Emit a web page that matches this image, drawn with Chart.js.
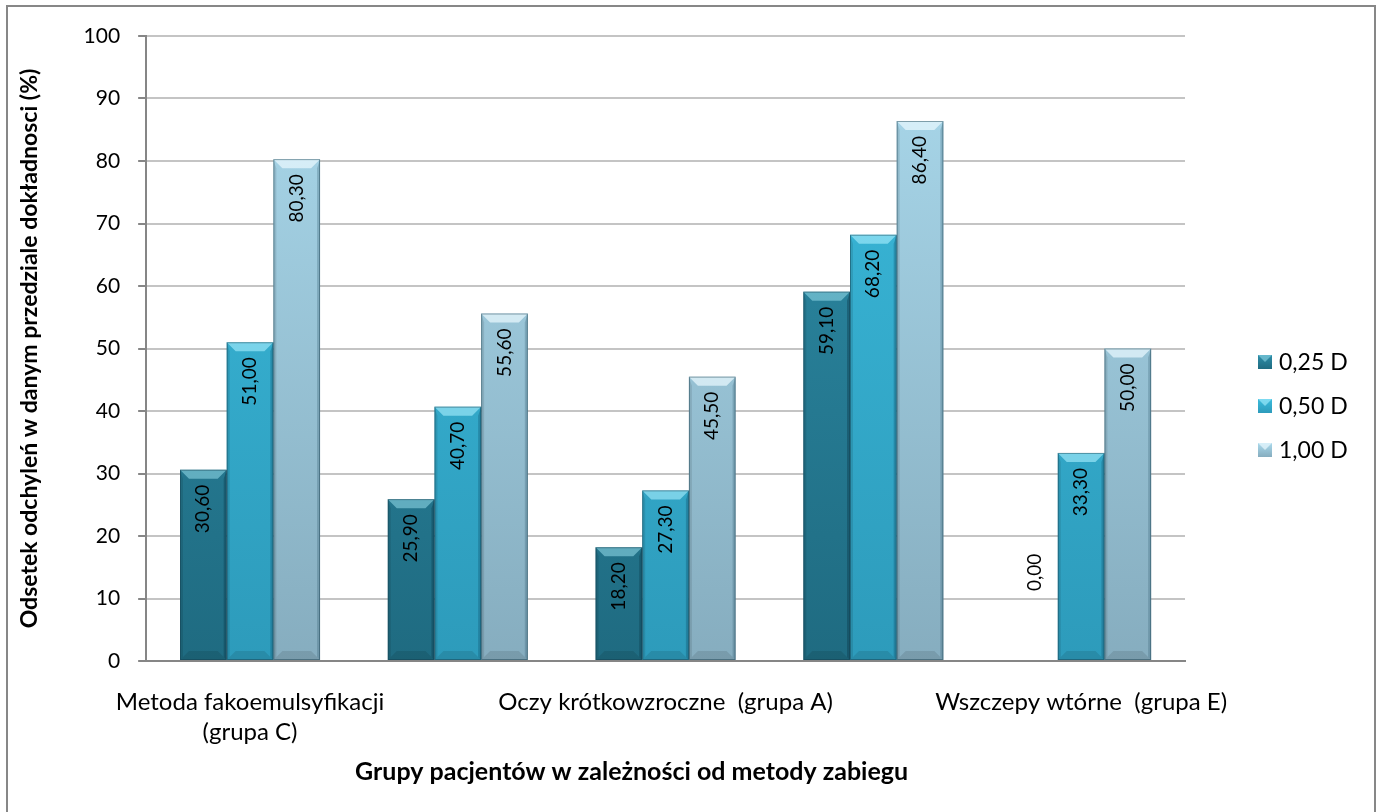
<!DOCTYPE html>
<html lang="pl">
<head>
<meta charset="utf-8">
<title>Odsetek odchyleń w danym przedziale dokładności</title>
<script src="https://cdn.jsdelivr.net/npm/chart.js@4.4.1/dist/chart.umd.min.js"></script>
<style>
  html, body { margin: 0; padding: 0; background: #ffffff; }
  #wrap { position: relative; width: 1379px; height: 812px; }
</style>
</head>
<body>
<div id="wrap"><canvas id="chart" width="1379" height="812"></canvas></div>
<script>
// Groups of patients (only every other group name is printed on the axis)
const categories = [
  ["Metoda fakoemulsyfikacji", "(grupa C)"],
  "",
  "Oczy krótkowzroczne  (grupa A)",
  "",
  "Wszczepy wtórne  (grupa E)"
];

// Share of deviations within each accuracy interval (%)
const seriesNames = ["0,25 D", "0,50 D", "1,00 D"];
const values025 = [30.6, 25.9, 18.2, 59.1, 0.0];
const values050 = [51.0, 40.7, 27.3, 68.2, 33.3];
const values100 = [80.3, 55.6, 45.5, 86.4, 50.0];

const yTicks = [0, 10, 20, 30, 40, 50, 60, 70, 80, 90, 100];

const xTitle = "Grupy pacjentów w zależności od metody zabiegu";
const yTitle = "Odsetek odchyleń w danym przedziale dokładnosci (%)";

const FONT = "Lato, 'Open Sans', 'Liberation Sans', sans-serif";

// Colour ramps for each series
const palettes = [
  { top: "#2e8ea9", bottom: "#1f6b81", light: "rgba(150,220,235,0.55)", dark: "rgba(10,50,65,0.35)", legend: "#2a84a0" },
  { top: "#3bbbdc", bottom: "#2d9bbb", light: "rgba(170,240,255,0.6)", dark: "rgba(10,70,95,0.3)", legend: "#33acd0" },
  { top: "#aad9ec", bottom: "#86adbf", light: "rgba(235,250,255,0.7)", dark: "rgba(40,80,100,0.25)", legend: "#9cc6d8" }
];

function verticalGradient(p) {
  return (ctx) => {
    const area = ctx.chart.chartArea;
    if (!area) return p.legend;
    const g = ctx.chart.ctx.createLinearGradient(0, area.top, 0, area.bottom);
    g.addColorStop(0, p.top);
    g.addColorStop(1, p.bottom);
    return g;
  };
}

// Bevelled edges on each bar, drawn from the bar elements laid out by Chart.js
const bevelPlugin = {
  id: "bevel",
  afterDatasetsDraw(chart) {
    const ctx = chart.ctx;
    chart.data.datasets.forEach((ds, di) => {
      const meta = chart.getDatasetMeta(di);
      const p = palettes[di];
      meta.data.forEach((bar) => {
        const { x, y, base, width } = bar.getProps(["x", "y", "base", "width"], true);
        const h = base - y;
        if (h < 1) return;
        const l = x - width / 2, r = x + width / 2;
        const b = Math.min(9, h / 2);
        ctx.save();
        ctx.fillStyle = p.light;
        ctx.beginPath();
        ctx.moveTo(l, y); ctx.lineTo(r, y); ctx.lineTo(r - b, y + b); ctx.lineTo(l + b, y + b); ctx.closePath();
        ctx.fill();
        ctx.fillStyle = "rgba(0,0,0,0.10)";
        ctx.beginPath();
        ctx.moveTo(l, y); ctx.lineTo(l + 3, y + b); ctx.lineTo(l + 3, base - 3); ctx.lineTo(l, base); ctx.closePath();
        ctx.fill();
        ctx.fillStyle = p.dark;
        ctx.beginPath();
        ctx.moveTo(r, y); ctx.lineTo(r - 3, y + b); ctx.lineTo(r - 3, base - 3); ctx.lineTo(r, base); ctx.closePath();
        ctx.fill();
        ctx.fillStyle = "rgba(0,0,0,0.10)";
        ctx.beginPath();
        ctx.moveTo(l, base); ctx.lineTo(r, base); ctx.lineTo(r - b, base - b); ctx.lineTo(l + b, base - b); ctx.closePath();
        ctx.fill();
        ctx.strokeStyle = "rgba(20,60,75,0.45)";
        ctx.lineWidth = 1;
        ctx.strokeRect(l + 0.5, y + 0.5, width - 1, h - 1);
        ctx.restore();
      });
    });
  }
};

// Rotated value labels, written inside the top of each bar
const valueLabelPlugin = {
  id: "valueLabels",
  afterDatasetsDraw(chart) {
    const ctx = chart.ctx;
    ctx.save();
    ctx.font = "19px " + FONT;
    ctx.fillStyle = "#000000";
    ctx.textBaseline = "middle";
    chart.data.datasets.forEach((ds, di) => {
      const meta = chart.getDatasetMeta(di);
      meta.data.forEach((bar, i) => {
        const v = ds.data[i];
        const txt = v.toFixed(2).replace(".", ",");
        const { x, y, base } = bar.getProps(["x", "y", "base"], true);
        ctx.save();
        if (v > 0) {
          ctx.translate(x, y + 15);
          ctx.rotate(-Math.PI / 2);
          ctx.textAlign = "right";
        } else {
          ctx.translate(x, base - 70);
          ctx.rotate(-Math.PI / 2);
          ctx.textAlign = "left";
        }
        ctx.fillText(txt, 0, 0);
        ctx.restore();
      });
    });
    ctx.restore();
  }
};

// Series key to the right of the plot
const legendPlugin = {
  id: "sideLegend",
  afterDraw(chart) {
    const ctx = chart.ctx;
    const area = chart.chartArea;
    const x0 = area.right + 73;
    const step = 44;
    const cy = 406;
    ctx.save();
    ctx.font = "23px " + FONT;
    ctx.textBaseline = "middle";
    ctx.textAlign = "left";
    chart.data.datasets.forEach((ds, i) => {
      const y = cy + (i - 1) * step;
      const p = palettes[i];
      const g = ctx.createLinearGradient(0, y - 7, 0, y + 7);
      g.addColorStop(0, p.top);
      g.addColorStop(1, p.bottom);
      ctx.fillStyle = g;
      ctx.fillRect(x0, y - 7, 14, 14);
      ctx.fillStyle = p.light;
      ctx.beginPath();
      ctx.moveTo(x0, y - 7); ctx.lineTo(x0 + 14, y - 7); ctx.lineTo(x0 + 7, y); ctx.closePath();
      ctx.fill();
      ctx.fillStyle = "#000000";
      ctx.fillText(ds.label, x0 + 21, y + 1);
    });
    ctx.restore();
  }
};

// Category axis title, centred under the whole chart body rather than the plot area
const xTitlePlugin = {
  id: "xTitle",
  afterDraw(chart) {
    const ctx = chart.ctx;
    const area = chart.chartArea;
    ctx.save();
    ctx.font = "bold 25px " + FONT;
    ctx.fillStyle = "#000000";
    ctx.textAlign = "center";
    ctx.textBaseline = "middle";
    ctx.fillText(xTitle, (area.left + area.right) / 2 - 34, 772);
    ctx.restore();
  }
};

// Outer frame of the chart
const framePlugin = {
  id: "frame",
  beforeDraw(chart) {
    const ctx = chart.ctx;
    ctx.save();
    ctx.fillStyle = "#ffffff";
    ctx.fillRect(0, 0, chart.width, chart.height);
    ctx.strokeStyle = "#878787";
    ctx.lineWidth = 2;
    ctx.strokeRect(7, 6, 1368, 830);
    ctx.restore();
  }
};

const seriesValues = [values025, values050, values100];

new Chart(document.getElementById("chart"), {
  type: "bar",
  data: {
    labels: categories,
    datasets: seriesNames.map((name, i) => ({
      label: name,
      data: seriesValues[i],
      backgroundColor: verticalGradient(palettes[i]),
      borderWidth: 0,
      categoryPercentage: 0.674,
      barPercentage: 1.0
    }))
  },
  options: {
    responsive: false,
    animation: false,
    devicePixelRatio: 1,
    layout: { padding: { left: 16, top: 36, right: 194, bottom: 39 } },
    plugins: {
      tooltip: { enabled: false },
      legend: { display: false }
    },
    scales: {
      x: {
        grid: { display: false, drawTicks: false },
        border: { display: true, color: "#868686", width: 2 },
        ticks: {
          autoSkip: false,
          maxRotation: 0,
          minRotation: 0,
          padding: 26,
          color: "#000000",
          font: { family: FONT, size: 24, lineHeight: 1.25 }
        },
        title: { display: false }
      },
      y: {
        min: 0,
        max: 100,
        afterBuildTicks(scale) {
          scale.ticks = yTicks.map((v) => ({ value: v }));
        },
        grid: { color: "#c4c4c4", lineWidth: 2, tickLength: 8, tickColor: "#868686" },
        border: { display: true, color: "#868686", width: 2 },
        ticks: {
          color: "#000000",
          padding: 18,
          font: { family: FONT, size: 21 }
        },
        title: {
          display: true,
          text: yTitle,
          color: "#000000",
          font: { family: FONT, size: 23, weight: "bold" },
          padding: { top: 0, bottom: 22 }
        }
      }
    }
  },
  plugins: [framePlugin, bevelPlugin, valueLabelPlugin, legendPlugin, xTitlePlugin]
});
</script>
</body>
</html>
